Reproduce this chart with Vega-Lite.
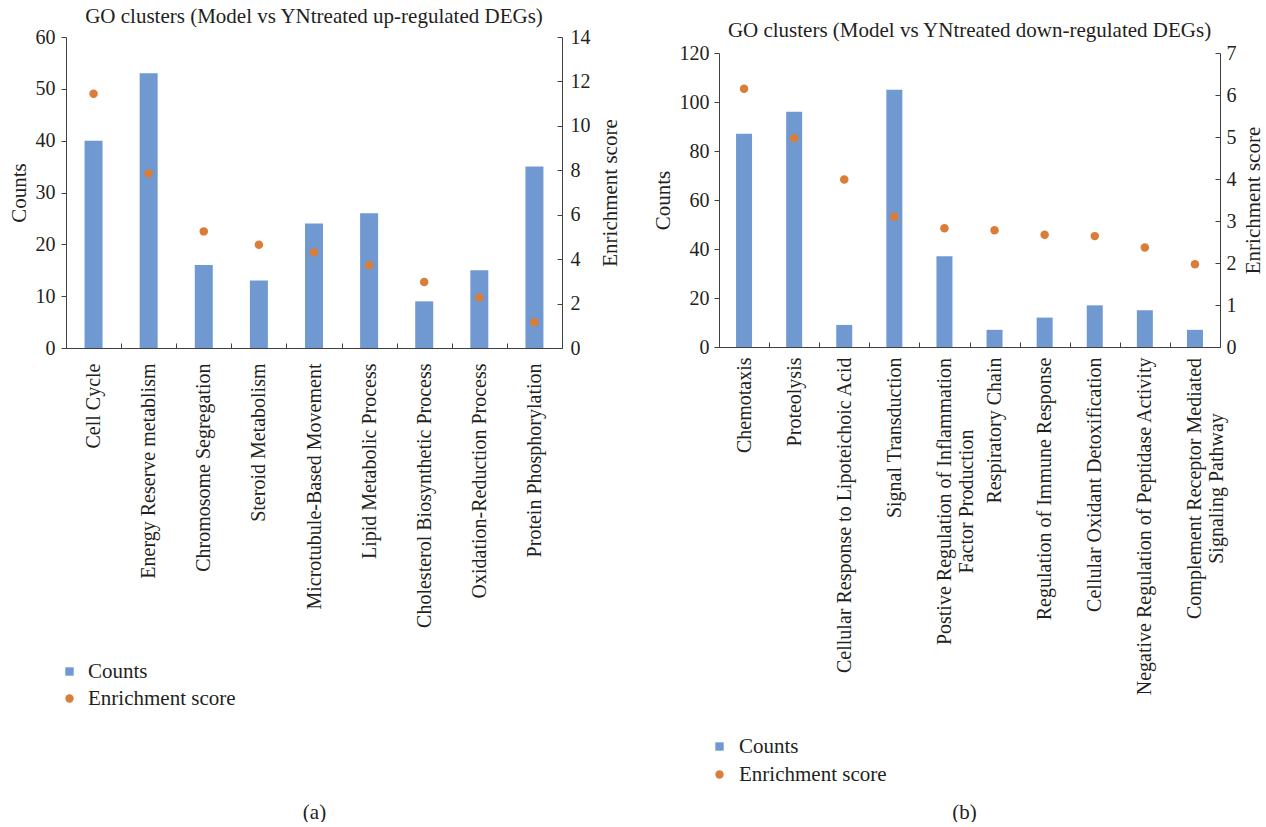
{
  "$schema": "https://vega.github.io/schema/vega-lite/v6.json",
  "background": "white",
  "padding": {"left": 8, "top": 6, "right": 0, "bottom": 0},
  "config": {
    "font": "Liberation Serif",
    "view": {"stroke": null},
    "axis": {
      "grid": false,
      "domainColor": "#404040",
      "tickColor": "#404040",
      "labelColor": "#231F20",
      "titleColor": "#231F20",
      "labelFont": "Liberation Serif",
      "titleFont": "Liberation Serif",
      "labelFontSize": 20,
      "titleFontSize": 21,
      "titleFontWeight": "normal",
      "labelLimit": 0
    },
    "title": {"font": "Liberation Serif", "fontSize": 21, "fontWeight": "normal", "color": "#231F20", "anchor": "middle", "frame": "group"},
    "legend": {"labelFont": "Liberation Serif", "labelFontSize": 21, "labelColor": "#231F20"}
  },
  "spacing": 32,
  "resolve": {"scale": {"color": "independent"}, "legend": {"color": "independent"}},
  "hconcat": [
    {
      "width": 496,
      "height": 311,
      "title": {"text": "GO clusters (Model vs YNtreated up-regulated DEGs)", "offset": 0},
      "data": {"values": [
        {"term": "Cell Cycle", "counts": 40, "score": 11.45},
        {"term": "Energy Reserve metablism", "counts": 53, "score": 7.85},
        {"term": "Chromosome Segregation", "counts": 16, "score": 5.25},
        {"term": "Steroid Metabolism", "counts": 13, "score": 4.65},
        {"term": "Microtubule-Based Movement", "counts": 24, "score": 4.31},
        {"term": "Lipid Metabolic Process", "counts": 26, "score": 3.72},
        {"term": "Cholesterol Biosynthetic Process", "counts": 9, "score": 2.97},
        {"term": "Oxidation-Reduction Process", "counts": 15, "score": 2.27},
        {"term": "Protein Phosphorylation", "counts": 35, "score": 1.16}
      ]},
      "encoding": {
        "x": {
          "field": "term", "type": "nominal", "sort": null,
          "scale": {"paddingInner": 0, "paddingOuter": 0},
          "axis": {"title": "(a)", "titleY": 464, "titleBaseline": "middle", "labelAngle": -90, "tickBand": "extent", "tickSize": -5, "labelPadding": 20}
        }
      },
      "layer": [
        {
          "mark": {"type": "bar", "size": 18},
          "encoding": {
            "y": {"field": "counts", "type": "quantitative", "scale": {"domain": [0, 60], "nice": false},
                  "axis": {"title": "Counts", "values": [0, 10, 20, 30, 40, 50, 60], "tickSize": 5, "labelPadding": 6, "titlePadding": 6}},
            "color": {"datum": "Counts", "type": "nominal",
                      "scale": {"domain": ["Counts", "Enrichment score"], "range": ["#6F99D0", "#DA7D38"]},
                      "legend": {"orient": "none", "legendX": -7, "legendY": 624, "title": null, "symbolSize": 70, "symbolOpacity": 1, "symbolStrokeWidth": 0, "labelOffset": 8, "rowPadding": 5,
                                 "encode": {"symbols": {"update": {"shape": {"signal": "datum.value === 'Counts' ? 'square' : 'circle'"}}}}}}
          }
        },
        {
          "mark": {"type": "point", "filled": true, "size": 72, "opacity": 1},
          "encoding": {
            "y": {"field": "score", "type": "quantitative", "scale": {"domain": [0, 14], "nice": false},
                  "axis": {"orient": "right", "title": "Enrichment score", "titleAngle": -90, "titleBaseline": "top", "values": [0, 2, 4, 6, 8, 10, 12, 14], "tickSize": -5, "labelPadding": 13, "titlePadding": 9}},
            "color": {"datum": "Enrichment score", "type": "nominal"}
          }
        }
      ],
      "resolve": {"scale": {"y": "independent"}}
    },
    {
      "width": 501,
      "height": 310,
      "title": {"text": "GO clusters (Model vs YNtreated down-regulated DEGs)", "offset": 0, "dy": 4},
      "data": {"values": [
        {"term": "Chemotaxis", "counts": 87, "score": 6.15},
        {"term": "Proteolysis", "counts": 96, "score": 4.97},
        {"term": "Cellular Response to Lipoteichoic Acid", "counts": 9, "score": 3.99},
        {"term": "Signal Transduction", "counts": 105, "score": 3.10},
        {"term": "Postive Regulation of Inflammation Factor Production", "counts": 37, "score": 2.83},
        {"term": "Respiratory Chain", "counts": 7, "score": 2.78},
        {"term": "Regulation of Immune Response", "counts": 12, "score": 2.67},
        {"term": "Cellular Oxidant Detoxification", "counts": 17, "score": 2.64},
        {"term": "Negative Regulation of Peptidase Activity", "counts": 15, "score": 2.37},
        {"term": "Complement Receptor Mediated Signaling Pathway", "counts": 7, "score": 1.97}
      ]},
      "encoding": {
        "x": {
          "field": "term", "type": "nominal", "sort": null,
          "scale": {"paddingInner": 0, "paddingOuter": 0},
          "axis": {"title": "(b)", "titleY": 465, "titleX": 245, "titleBaseline": "middle", "labelAngle": -90, "tickBand": "extent", "tickSize": -5,
                   "labelAlign": {"condition": {"test": "datum.value == 'Postive Regulation of Inflammation Factor Production' || datum.value == 'Complement Receptor Mediated Signaling Pathway'", "value": "center"}, "value": "right"},
                   "labelPadding": {"condition": [{"test": "datum.value == 'Postive Regulation of Inflammation Factor Production'", "value": 159}, {"test": "datum.value == 'Complement Receptor Mediated Signaling Pathway'", "value": 146}], "value": 15},
                   "labelExpr": "datum.value == 'Postive Regulation of Inflammation Factor Production' ? ['Postive Regulation of Inflammation', 'Factor Production'] : datum.value == 'Complement Receptor Mediated Signaling Pathway' ? ['Complement Receptor Mediated', 'Signaling Pathway'] : datum.value"}
        }
      },
      "layer": [
        {
          "mark": {"type": "bar", "size": 16},
          "encoding": {
            "y": {"field": "counts", "type": "quantitative", "scale": {"domain": [0, 120], "nice": false, "range": [310, 16]},
                  "axis": {"title": "Counts", "values": [0, 20, 40, 60, 80, 100, 120], "tickSize": 5, "labelPadding": 5, "titlePadding": 6}},
            "color": {"datum": "Counts", "type": "nominal",
                      "scale": {"domain": ["Counts", "Enrichment score"], "range": ["#6F99D0", "#DA7D38"]},
                      "legend": {"orient": "none", "legendX": -10, "legendY": 699, "title": null, "symbolSize": 70, "symbolOpacity": 1, "symbolStrokeWidth": 0, "labelOffset": 9, "rowPadding": 6,
                                 "encode": {"symbols": {"update": {"shape": {"signal": "datum.value === 'Counts' ? 'square' : 'circle'"}}}}}}
          }
        },
        {
          "mark": {"type": "point", "filled": true, "size": 72, "opacity": 1},
          "encoding": {
            "y": {"field": "score", "type": "quantitative", "scale": {"domain": [0, 7], "nice": false, "range": [310, 16]},
                  "axis": {"orient": "right", "title": "Enrichment score", "titleAngle": -90, "titleBaseline": "top", "values": [0, 1, 2, 3, 4, 5, 6, 7], "tickSize": -5, "labelPadding": 11, "titlePadding": 6}},
            "color": {"datum": "Enrichment score", "type": "nominal"}
          }
        }
      ],
      "resolve": {"scale": {"y": "independent"}}
    }
  ]
}
